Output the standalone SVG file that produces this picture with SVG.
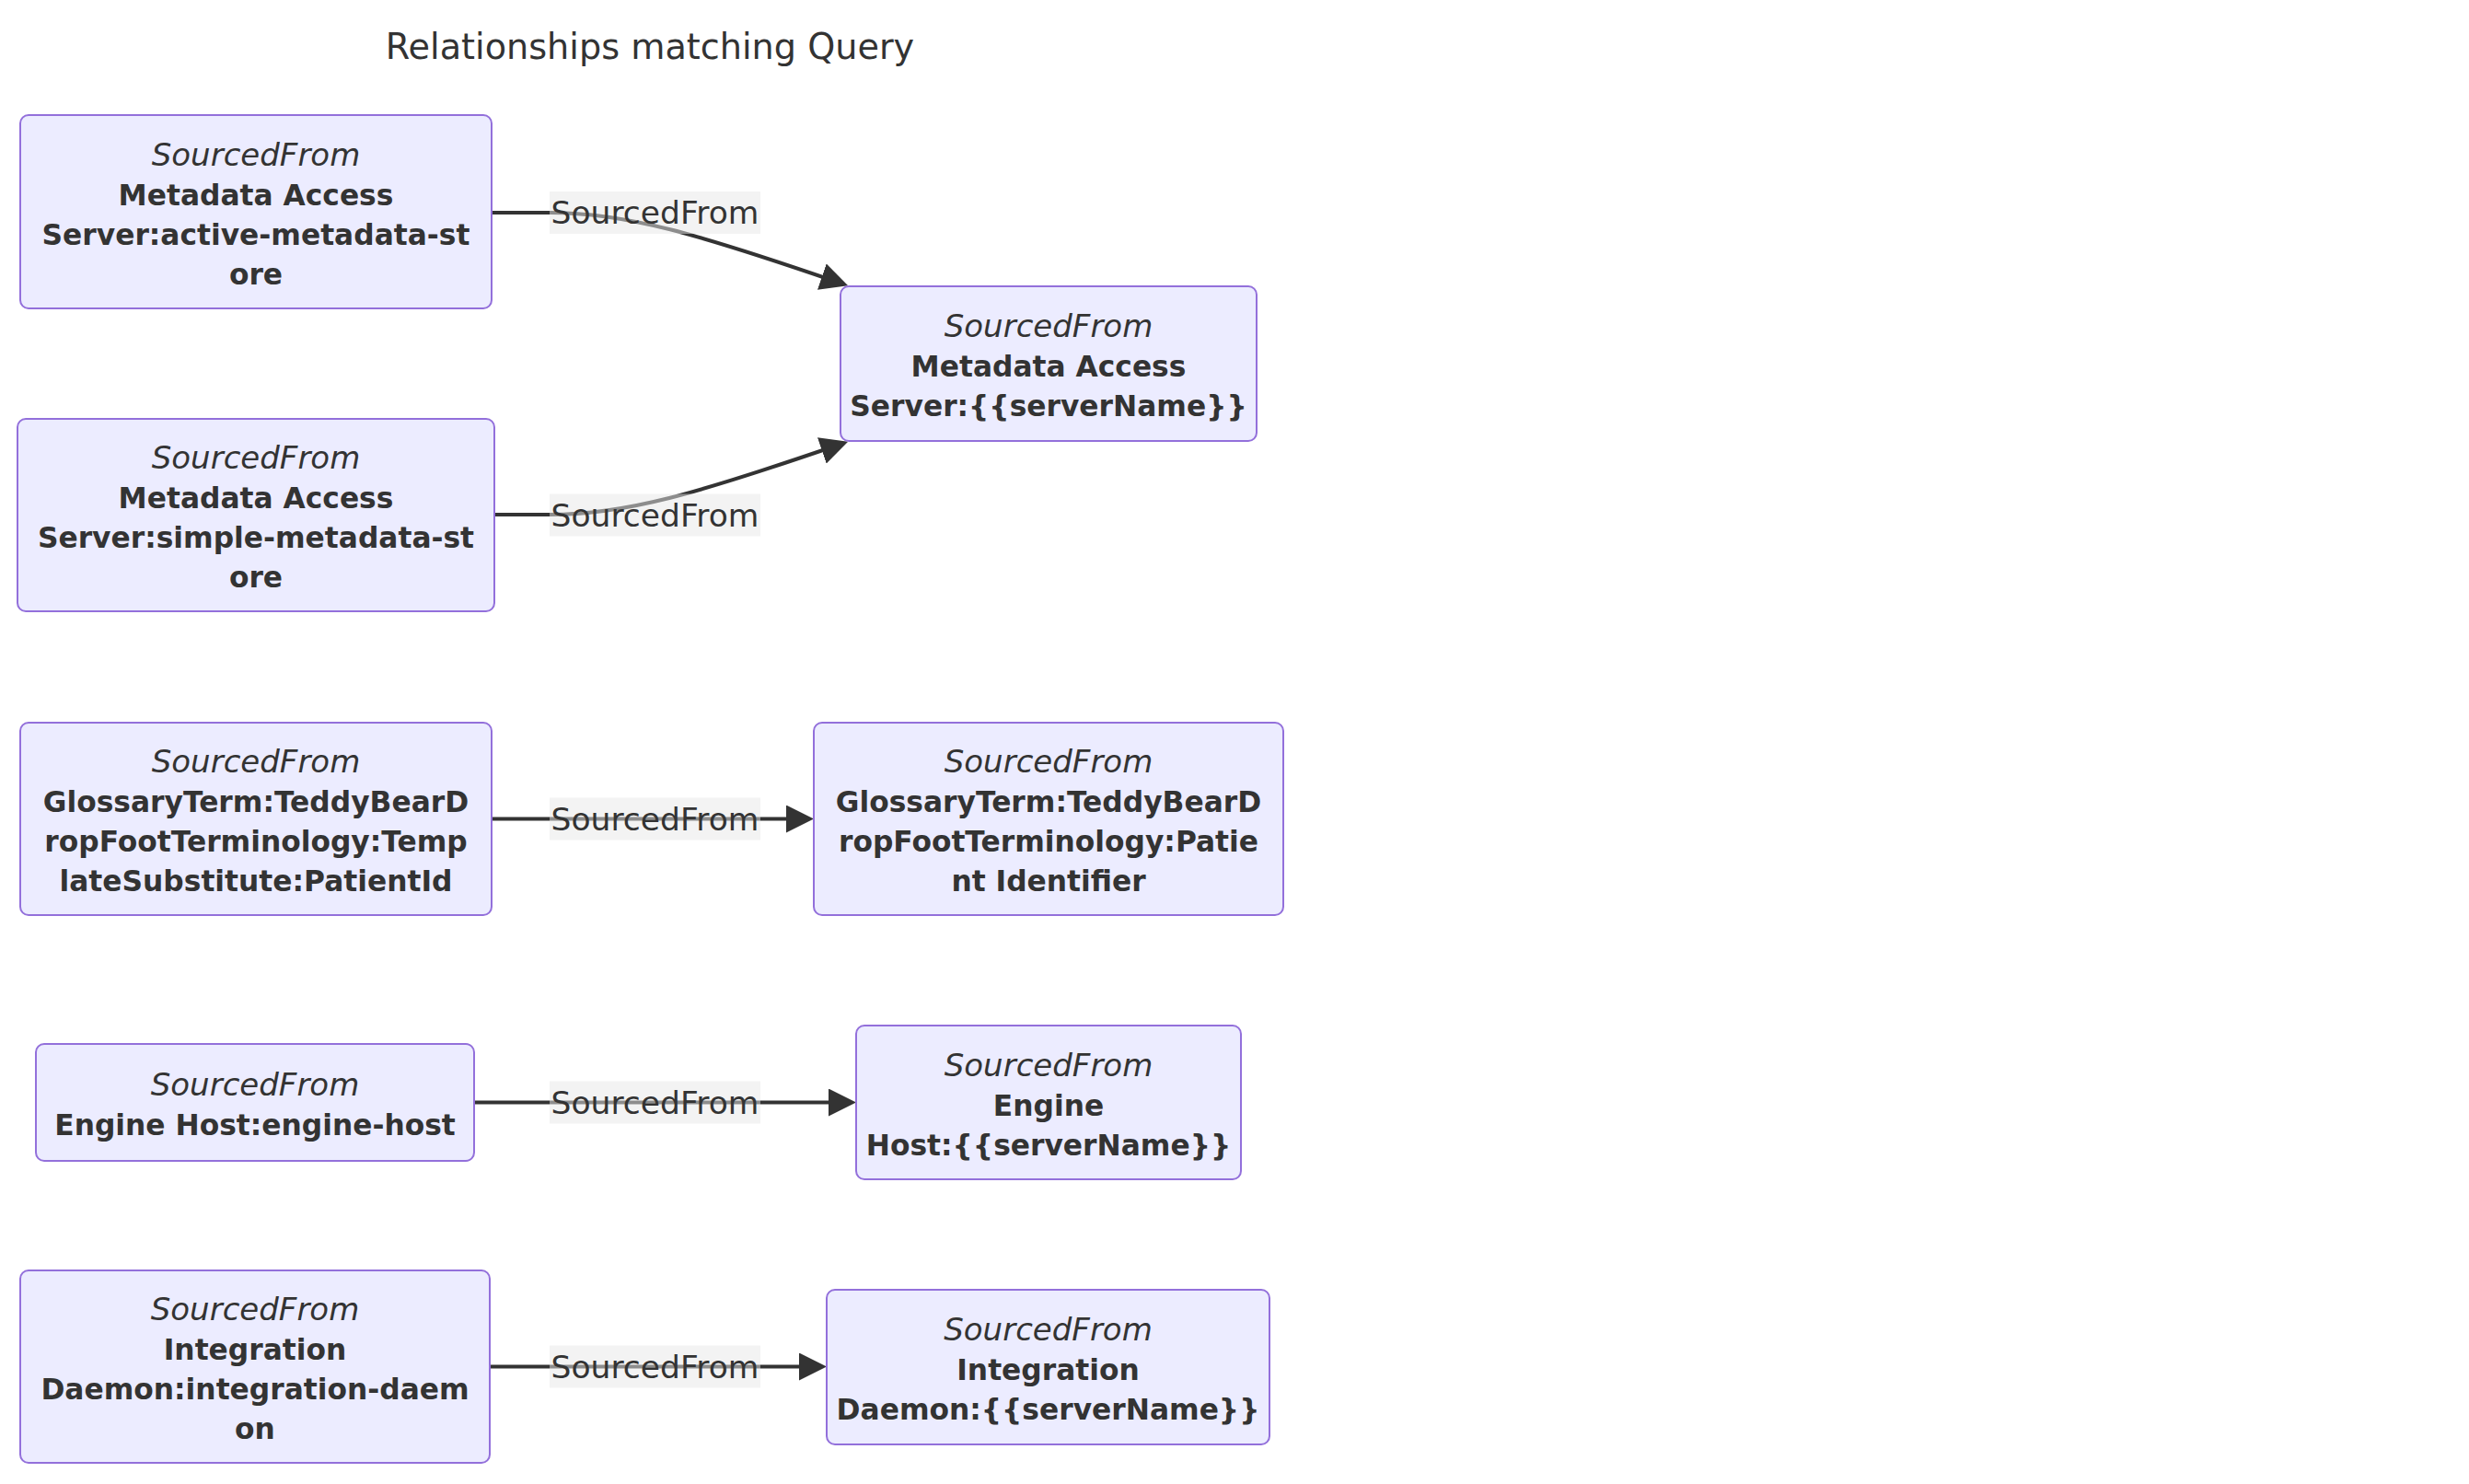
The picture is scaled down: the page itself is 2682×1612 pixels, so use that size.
<svg xmlns="http://www.w3.org/2000/svg" width="2682" height="1612" viewBox="0 0 2682 1612">
<style>
text{font-family:"DejaVu Sans",Verdana,sans-serif;fill:#333;text-anchor:middle}
.title{font-size:38.2px}
.it{font-size:34px;font-style:italic}
.b{font-size:31.3px;font-weight:bold}
.lbl{font-size:34.5px}
.node rect{fill:#ECECFF;stroke:#9370DB;stroke-width:2}
.edge{fill:none;stroke:#333;stroke-width:4;marker-end:url(#arrow)}
.lblbg{fill:rgba(232,232,232,0.5)}
</style>
<defs>
<marker id="arrow" viewBox="0 0 10 10" refX="5" refY="5" markerUnits="userSpaceOnUse" markerWidth="30" markerHeight="30" orient="auto">
<path d="M0,0 L10,5 L0,10 z" fill="#333"/>
</marker>
</defs>
<rect width="2682" height="1612" fill="#fff"/>
<text class="title" x="706" y="64">Relationships matching Query</text>

<g id="connectors">
<path class="edge" d="M534,231 L597,231 C680,231 760,255 907,305.5"/>
<path class="edge" d="M537,559 L597,559 C680,559 760,535 907,484.5"/>
<path class="edge" d="M534,889.5 L869,889.5"/>
<path class="edge" d="M515,1197.5 L915,1197.5"/>
<path class="edge" d="M532,1484.5 L883,1484.5"/>
<g id="edge-labels">
<rect class="lblbg" x="597" y="208" width="229" height="46"/>
<text class="lbl" x="711.5" y="243">SourcedFrom</text>
<rect class="lblbg" x="597" y="536.5" width="229" height="46"/>
<text class="lbl" x="711.5" y="571.5">SourcedFrom</text>
<rect class="lblbg" x="597" y="866.5" width="229" height="46"/>
<text class="lbl" x="711.5" y="901.5">SourcedFrom</text>
<rect class="lblbg" x="597" y="1174.5" width="229" height="46"/>
<text class="lbl" x="711.5" y="1209.5">SourcedFrom</text>
<rect class="lblbg" x="597" y="1461.5" width="229" height="46"/>
<text class="lbl" x="711.5" y="1496.5">SourcedFrom</text>
</g>
</g>

<g id="node-active" class="node">
<rect x="22" y="125" width="512" height="210" rx="9"/>
<text class="it" x="278" y="179.5">SourcedFrom</text>
<text class="b" x="278" y="222.5">Metadata Access</text>
<text class="b" x="278" y="265.5">Server:active-metadata-st</text>
<text class="b" x="278" y="308.5">ore</text>
</g>

<g id="node-simple" class="node">
<rect x="19" y="455" width="518" height="209" rx="9"/>
<text class="it" x="278" y="509">SourcedFrom</text>
<text class="b" x="278" y="552">Metadata Access</text>
<text class="b" x="278" y="595">Server:simple-metadata-st</text>
<text class="b" x="278" y="638">ore</text>
</g>

<g id="node-mas-target" class="node">
<rect x="913" y="311" width="452" height="168" rx="9"/>
<text class="it" x="1139" y="366">SourcedFrom</text>
<text class="b" x="1139" y="409">Metadata Access</text>
<text class="b" x="1139" y="452">Server:{{serverName}}</text>
</g>

<g id="node-glossary-src" class="node">
<rect x="22" y="785" width="512" height="209" rx="9"/>
<text class="it" x="278" y="839">SourcedFrom</text>
<text class="b" x="278" y="882">GlossaryTerm:TeddyBearD</text>
<text class="b" x="278" y="925">ropFootTerminology:Temp</text>
<text class="b" x="278" y="968">lateSubstitute:PatientId</text>
</g>

<g id="node-glossary-tgt" class="node">
<rect x="884" y="785" width="510" height="209" rx="9"/>
<text class="it" x="1139" y="839">SourcedFrom</text>
<text class="b" x="1139" y="882">GlossaryTerm:TeddyBearD</text>
<text class="b" x="1139" y="925">ropFootTerminology:Patie</text>
<text class="b" x="1139" y="968">nt Identifier</text>
</g>

<g id="node-engine-src" class="node">
<rect x="39" y="1134" width="476" height="127" rx="9"/>
<text class="it" x="277" y="1190">SourcedFrom</text>
<text class="b" x="277" y="1233">Engine Host:engine-host</text>
</g>

<g id="node-engine-tgt" class="node">
<rect x="930" y="1114" width="418" height="167" rx="9"/>
<text class="it" x="1139" y="1168.5">SourcedFrom</text>
<text class="b" x="1139" y="1211.5">Engine</text>
<text class="b" x="1139" y="1254.5">Host:{{serverName}}</text>
</g>

<g id="node-integration-src" class="node">
<rect x="22" y="1380" width="510" height="209" rx="9"/>
<text class="it" x="277" y="1434">SourcedFrom</text>
<text class="b" x="277" y="1477">Integration</text>
<text class="b" x="277" y="1520">Daemon:integration-daem</text>
<text class="b" x="277" y="1563">on</text>
</g>

<g id="node-integration-tgt" class="node">
<rect x="898" y="1401" width="481" height="168" rx="9"/>
<text class="it" x="1138.5" y="1456">SourcedFrom</text>
<text class="b" x="1138.5" y="1499">Integration</text>
<text class="b" x="1138.5" y="1542">Daemon:{{serverName}}</text>
</g>
</svg>
